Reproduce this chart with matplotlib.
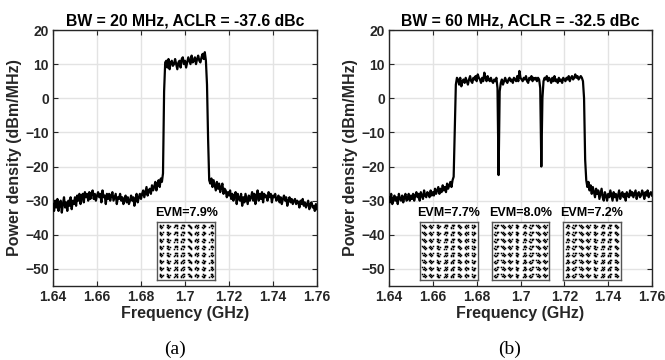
import numpy as np
import matplotlib
matplotlib.use("Agg")
import matplotlib.pyplot as plt

# ---------------- data ----------------
f_start, f_stop = 1.64, 1.76

psd_20mhz = [
    -31, -33, -30, -32, -29.5, -33, -31, -30, -33.5, -31, -29, -32, -30.5, -33, -30, -31.5, -29, -32.5, -30, -31,
    -29, -31.5, -28.5, -30, -28, -31, -29, -28, -30.5, -27.5, -29, -28, -30, -27.5, -29.5, -28, -27, -29.5, -28, -30,
    -28.5, -27.5, -29, -28, -30.5, -27, -29, -28.5, -31, -28, -29.5, -28, -30, -28.5, -27.5, -30, -29, -28, -31, -29,
    -29.5, -28, -30, -29, -31, -29.5, -28.5, -30.5, -29, -31, -30, -28.5, -30, -29, -31.5, -29.5, -28, -30.5, -29, -28,
    -29.5, -28, -27, -29, -27.5, -26, -28.5, -27, -26.5, -28, -25.5, -27, -26, -24.5, -27, -25, -24, -26, -23.5, -24.5,
    -22, 2, 10.5,
    11, 9, 11.5, 8.5, 10.5, 11, 9.5, 10, 11.5, 10, 8.5, 10.5, 11, 9, 11.5, 12, 10, 11, 9, 10.5,
    12, 11, 10, 12.5, 10.5, 11, 12, 10, 11.5, 12.5, 11, 10.5, 12, 13, 11.5, 13.5,
    11, 4, -12, -24,
    -25, -23.5, -26, -24, -25.5, -27, -24.5, -26.5, -25, -27.5, -26, -25, -28, -26.5, -27, -29, -27.5, -28.5,
    -27, -29.5, -28, -30, -28.5, -27.5, -31, -28, -29.5, -30, -28, -31.5, -29, -30.5, -28, -29.5, -31, -28.5, -30, -29,
    -27.5, -30, -28, -31, -28.5, -27, -30, -28, -29.5, -27.5, -30.5, -28, -29, -28.5, -30, -27.5, -29, -28, -30.5, -28.5,
    -29, -28, -30, -29.5, -28.5, -30.5, -29, -31, -29.5, -28.5, -30, -29, -31.5, -30, -29, -30.5, -29.5, -31, -30, -29.5,
    -31, -30, -30.5, -32, -30, -31, -29.5, -31.5, -30.5, -32, -31, -30, -32.5, -31, -30.5, -32, -31.5, -33, -31, -32.5,
]

psd_60mhz = [
    -29, -30.5, -28, -31, -29.5, -28.5, -30, -29, -31, -28, -29.5, -30, -28.5, -30.5, -29, -28, -30, -29.5, -28, -30,
    -28.5, -29.5, -28, -30, -28.5, -27.5, -29, -28, -30, -27.5, -28.5, -29.5, -27, -28.5, -29, -27.5, -28, -29, -27, -28.5,
    -27.5, -28.5, -26.5, -28, -27, -26, -28, -26.5, -27.5, -25.5, -27, -26, -27.5, -25, -26.5, -25.5, -24.5, -26, -24, -23,
    -10, 4, 6,
    5.5, 4, 6, 3.5, 5, 5.5, 4.5, 6, 5, 4, 5.5, 6.5, 5, 4.5, 6, 5.5, 6.5, 5, 7, 6,
    5.5, 4.5, 6, 5, 7.5, 6, 5, 6.5, 5.5, 5, 6, 5, 4.5, 5.5, 5, 6, 3,
    -22.5, 2,
    4.5, 5.5, 4, 5, 6, 5, 4.5, 5.5, 6, 5, 5.5, 4.5, 6, 5.5, 5, 6.5, 5, 8, 6, 5.5,
    5, 6, 5.5, 6.5, 5, 4.5, 6, 5.5, 6.5, 5, 6, 5.5, 6, 5, 6, 5.5,
    3, -20, 0, 5,
    6, 5.5, 6.5, 5, 6, 5.5, 4.5, 6, 5, 6.5, 5, 5.5, 4.5, 6, 5, 5.5, 4.5, 6, 5.5, 5,
    6, 5.5, 6.5, 5, 6, 6.5, 5.5, 6, 7, 6, 6.5, 5.5, 6, 6.5, 6,
    5, 0, -18, -24,
    -26, -24.5, -27, -25.5, -28, -26, -27.5, -29, -26.5, -28, -27, -29.5, -28, -26.5, -29, -30, -27.5, -28.5, -30, -28,
    -29, -27, -28.5, -30, -27.5, -29, -28, -30, -28.5, -27, -29.5, -28, -27.5, -29, -28, -30, -27.5, -28.5, -29, -27,
    -28.5, -27.5, -29, -28, -27, -29.5, -28, -27.5, -29, -28.5, -27, -28, -29.5, -27.5, -28.5, -27, -29, -28, -27.5, -28.5,
]

titles = ["BW = 20 MHz, ACLR = -37.6 dBc", "BW = 60 MHz, ACLR = -32.5 dBc"]
panel_tags = ["(a)", "(b)"]

x_ticks = [1.64, 1.66, 1.68, 1.70, 1.72, 1.74, 1.76]
x_tick_labels = ["1.64", "1.66", "1.68", "1.7", "1.72", "1.74", "1.76"]
y_ticks = [-50, -40, -30, -20, -10, 0, 10, 20]

# EVM insets: label and placement (centre frequency of each carrier)
evm_left = ["EVM=7.9%"]
evm_right = ["EVM=7.7%", "EVM=8.0%", "EVM=7.2%"]
inset_centers_left = [1.7005]
inset_centers_right = [1.6673, 1.7000, 1.7325]

# 64-QAM ideal levels and hand-read cluster shapes (offsets in level units)
qam_levels = [-7, -5, -3, -1, 1, 3, 5, 7]
cluster_shapes = [
    [(-0.5, 0.2), (-0.25, 0.4), (0.05, 0.1), (0.3, -0.2), (0.5, 0.3), (0.0, -0.4), (-0.4, -0.1)],
    [(-0.4, -0.3), (-0.1, 0.0), (0.2, 0.3), (0.4, 0.5), (0.0, 0.5), (0.3, -0.4), (0.5, 0.0)],
    [(-0.5, 0.4), (-0.3, 0.0), (0.0, -0.2), (0.2, 0.1), (0.5, -0.1), (-0.1, 0.5), (0.3, -0.45)],
    [(-0.3, 0.5), (0.0, 0.3), (0.0, 0.0), (0.1, -0.3), (0.4, 0.2), (-0.4, -0.2), (-0.1, -0.5)],
    [(-0.5, -0.1), (-0.2, 0.3), (0.2, 0.4), (0.3, 0.0), (0.1, -0.4), (0.5, 0.5), (-0.3, -0.45)],
]

# ---------------- figure ----------------
plt.rcParams["font.family"] = ["Liberation Sans", "DejaVu Sans"]
fig = plt.figure(figsize=(6.65, 3.6), dpi=100)

axes_rects = [
    [53 / 665, 1 - 286 / 360, 264 / 665, 256 / 360],
    [389 / 665, 1 - 286 / 360, 263 / 665, 256 / 360],
]
spectra = [psd_20mhz, psd_60mhz]
evm_sets = [evm_left, evm_right]
center_sets = [inset_centers_left, inset_centers_right]
tag_x = [175 / 665, 510 / 665]

inset_w = 0.0264   # GHz
inset_bottom, inset_top = -53.2, -36.3
evm_y = -33.6


def draw_constellation(iax, k):
    xs, ys = [], []
    for i, lx in enumerate(qam_levels):
        for j, ly in enumerate(qam_levels):
            shape = cluster_shapes[(3 * i + 5 * j + 2 * k) % len(cluster_shapes)]
            for dx, dy in shape:
                xs.append(lx + dx)
                ys.append(ly + dy)
    iax.plot(xs, ys, linestyle="none", marker="s", markersize=1.1,
             color="black", markeredgewidth=0)
    iax.set_xlim(-8.2, 8.2)
    iax.set_ylim(-8.2, 8.2)
    iax.set_xticks([])
    iax.set_yticks([])
    iax.set_facecolor("white")
    for s in iax.spines.values():
        s.set_color("#555555")
        s.set_linewidth(1.0)


k_global = 0
for p in range(2):
    ax = fig.add_axes(axes_rects[p])
    vals = np.array(spectra[p], dtype=float)
    freq = np.linspace(f_start, f_stop, len(vals))
    ax.plot(freq, vals, color="black", linewidth=1.6, zorder=3)

    ax.set_xlim(f_start, f_stop)
    ax.set_ylim(-55, 20)
    ax.set_xticks(x_ticks)
    ax.set_xticklabels(x_tick_labels)
    ax.set_yticks(y_ticks)
    ax.grid(True, color="#e3e3e3", linewidth=1.0, zorder=0)
    ax.set_axisbelow(True)
    ax.tick_params(direction="in", length=3.5, width=0.8, top=True, right=True,
                   labelsize=10, pad=3, colors="#262626")
    for lab in ax.get_xticklabels() + ax.get_yticklabels():
        lab.set_fontweight("bold")
        lab.set_color("#262626")
    for s in ax.spines.values():
        s.set_color("#262626")
        s.set_linewidth(1.0)

    ax.set_title(titles[p], fontsize=11.3, fontweight="bold", pad=3, color="black")
    ax.set_xlabel("Frequency (GHz)", fontsize=11.5, fontweight="bold", labelpad=1,
                  color="#262626")
    ax.set_ylabel("Power density (dBm/MHz)", fontsize=11.5, fontweight="bold",
                  labelpad=2, color="#262626")

    for c, txt in zip(center_sets[p], evm_sets[p]):
        iax = ax.inset_axes([c - inset_w / 2, inset_bottom, inset_w, inset_top - inset_bottom],
                            transform=ax.transData)
        iax.set_zorder(5)
        draw_constellation(iax, k_global)
        k_global += 1
        ax.text(c, evm_y, txt, ha="center", va="center", fontsize=9,
                fontweight="bold", color="black", zorder=6)

    fig.text(tag_x[p], 1 - 349 / 360, panel_tags[p], ha="center", va="center",
             fontsize=14, family=["Liberation Serif", "DejaVu Serif"])

fig.savefig("out.png", dpi=100)
